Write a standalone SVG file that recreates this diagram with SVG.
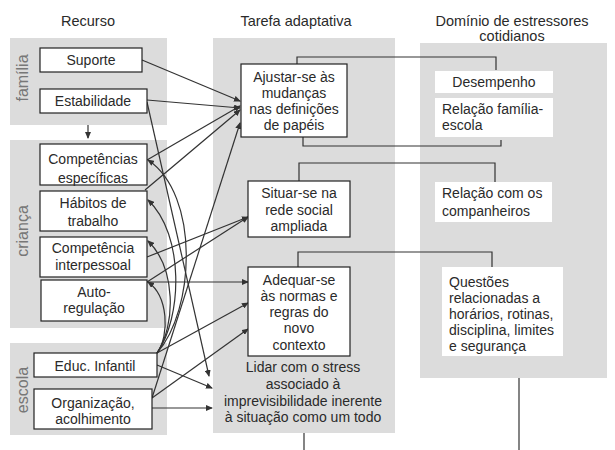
<svg xmlns="http://www.w3.org/2000/svg" width="615" height="450" viewBox="0 0 615 450">
<defs>
<marker id="ah" markerWidth="7" markerHeight="6" refX="6" refY="3" orient="auto" markerUnits="userSpaceOnUse">
<path d="M0,0 L7,3 L0,6 z" fill="#333"/>
</marker>
<style>
.panel{fill:#dcdcdc;}
.box{fill:#fff;stroke:#222;stroke-width:1.2;}
.wbox{fill:#fff;}
text{font-family:"Liberation Sans",Arial,sans-serif;font-size:14px;fill:#2a2a2a;}
.c{text-anchor:middle;}
.h{font-size:14.5px;text-anchor:middle;}
.side{font-size:16px;fill:#777;text-anchor:middle;}
.ln{fill:none;stroke:#333;stroke-width:1.2;}
.ar{fill:none;stroke:#333;stroke-width:1.2;marker-end:url(#ah);}
</style>
</defs>
<rect width="615" height="450" fill="#fff"/>

<g id="panels">
<rect class="panel" x="10" y="38" width="157" height="87"/>
<rect class="panel" x="10" y="140" width="157" height="188"/>
<rect class="panel" x="10" y="343" width="157" height="92"/>
<rect class="panel" x="213" y="38" width="182" height="395"/>
<rect class="panel" x="420" y="43" width="187" height="335"/>
</g>

<g id="headings">
<text class="h" x="88" y="26">Recurso</text>
<text class="h" x="296" y="26">Tarefa adaptativa</text>
<text class="h" x="512" y="26">Domínio de estressores</text>
<text class="h" x="512" y="41">cotidianos</text>
<text class="side" transform="translate(28,78) rotate(-90)">família</text>
<text class="side" transform="translate(28,231) rotate(-90)">criança</text>
<text class="side" transform="translate(28,390) rotate(-90)">escola</text>
</g>

<g id="connectors">
<path class="ar" d="M88,125 L88,138"/>
<path class="ar" d="M142,60 L240,101"/>
<path class="ar" d="M147,100 L240,108"/>
<path class="ar" d="M147,102 L209,376"/>
<path class="ar" d="M147,160 L240,106"/>
<path class="ar" d="M145,190 L240,110"/>
<path class="ar" d="M152,398 L240,123"/>
<path class="ar" d="M147,257 L248,217"/>
<path class="ar" d="M147,282 L248,217"/>
<path class="ar" d="M147,282 L248,282"/>
<path class="ar" d="M157,353 L248,303"/>
<path class="ar" d="M152,398 L248,329"/>
<path class="ar" d="M157,365 L212,388"/>
<path class="ar" d="M152,408 L212,408"/>
<path class="ar" d="M157,353 C170,335 168,296 148,282"/>
<path class="ar" d="M157,353 C176,325 176,268 148,241"/>
<path class="ar" d="M157,353 C182,318 185,235 148,200"/>
<path class="ar" d="M157,353 C195,310 200,195 148,160"/>
<path class="ln" d="M297,64 L297,57 L496,57 L496,70"/>
<path class="ln" d="M303,137 L303,146 L501,146 L501,140"/>
<path class="ln" d="M299,181 L299,163 L495,163 L495,182"/>
<path class="ln" d="M298,267 L298,252 L492,252 L492,267"/>
<path class="ln" d="M304,433 L304,450"/>
<path class="ln" d="M519,378 L519,450"/>
</g>

<g id="suporte"><rect class="box" x="40" y="48" width="102" height="24"/><text class="c" x="91" y="65">Suporte</text></g>
<g id="estabilidade"><rect class="box" x="40" y="89" width="107" height="24"/><text class="c" x="93" y="106">Estabilidade</text></g>
<g id="competencias"><rect class="box" x="40" y="144" width="107" height="41"/><text class="c" x="93" y="164">Competências</text><text class="c" x="93" y="183">específicas</text></g>
<g id="habitos"><rect class="box" x="40" y="191" width="107" height="40"/><text class="c" x="93" y="208">Hábitos de</text><text class="c" x="93" y="226">trabalho</text></g>
<g id="interpessoal"><rect class="box" x="40" y="237" width="107" height="40"/><text class="c" x="93" y="253">Competência</text><text class="c" x="93" y="270">interpessoal</text></g>
<g id="autoregulacao"><rect class="box" x="41" y="280" width="106" height="41"/><text class="c" x="94" y="297">Auto-</text><text class="c" x="94" y="313">regulação</text></g>
<g id="educ"><rect class="box" x="34" y="353" width="123" height="24"/><text class="c" x="95" y="371">Educ. Infantil</text></g>
<g id="organizacao"><rect class="box" x="34" y="389" width="118" height="40"/><text class="c" x="93" y="408">Organização,</text><text class="c" x="93" y="424">acolhimento</text></g>

<g id="ajustar"><rect class="box" x="241" y="64" width="106" height="73"/><text class="c" x="294" y="82">Ajustar-se às</text><text class="c" x="294" y="98">mudanças</text><text class="c" x="294" y="114">nas definições</text><text class="c" x="294" y="130">de papéis</text></g>
<g id="situar"><rect class="box" x="248" y="181" width="102" height="56"/><text class="c" x="299" y="198">Situar-se na</text><text class="c" x="299" y="215">rede social</text><text class="c" x="299" y="231">ampliada</text></g>
<g id="adequar"><rect class="box" x="248" y="267" width="102" height="89"/><text class="c" x="299" y="285">Adequar-se</text><text class="c" x="299" y="301">às normas e</text><text class="c" x="299" y="317">regras do</text><text class="c" x="299" y="333">novo</text><text class="c" x="299" y="350">contexto</text></g>
<g id="lidar"><text class="c" x="303" y="372">Lidar com o stress</text><text class="c" x="303" y="389">associado à</text><text class="c" x="303" y="406">imprevisibilidade inerente</text><text class="c" x="303" y="422">à situação como um todo</text></g>

<g id="desempenho"><rect class="wbox" x="435" y="71" width="118" height="22"/><text class="c" x="494" y="87">Desempenho</text></g>
<g id="familia-escola"><rect class="wbox" x="435" y="98" width="118" height="39"/><text x="442" y="114">Relação família-</text><text x="442" y="130">escola</text></g>
<g id="companheiros"><rect class="wbox" x="435" y="182" width="117" height="40"/><text x="442" y="198">Relação com os</text><text x="442" y="216">companheiros</text></g>
<g id="questoes"><rect class="wbox" x="442" y="267" width="121" height="89"/><text x="449" y="287">Questões</text><text x="449" y="303">relacionadas a</text><text x="449" y="319">horários, rotinas,</text><text x="449" y="335">disciplina, limites</text><text x="449" y="351">e segurança</text></g>
</svg>
